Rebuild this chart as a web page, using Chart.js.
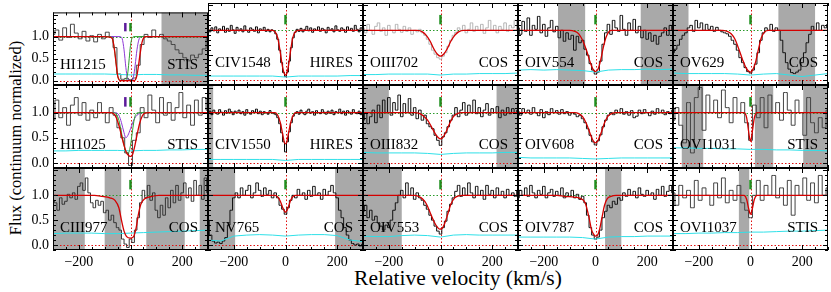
<!DOCTYPE html>
<html lang="en">
<head>
<meta charset="UTF-8">
<title>Absorption line velocity stack</title>
<script src="https://cdn.jsdelivr.net/npm/chart.js"></script>
<style>
  body { margin: 0; background: #fff; }
  #fig { position: relative; width: 831px; height: 292px; overflow: hidden; font-family: 'Liberation Serif', serif; color: #000; }
  #fig canvas { position: absolute; left: 0; top: 0; }
  .ylab { position: absolute; left: 16px; top: 138px; transform: translate(-50%, -50%) rotate(-90deg); font-size: 16.5px; white-space: nowrap; }
  .xlab { position: absolute; left: 458px; top: 278px; transform: translate(-50%, -50%); font-size: 21.5px; white-space: nowrap; }
</style>
</head>
<body>
<div id="fig">
  <div class="ylab">Flux (continuum normalized)</div>
  <div class="xlab">Relative velocity (km/s)</div>
</div>

<script>
  // velocity bins: every spectrum starts at -300 km/s
  const cosStep = 10, hiresStep = 7.5, stisStep = 15;
  const xTickLabels = [-200, 0, 200];
  const yTickLabels = [0, 0.5, 1.0];
  const errV = [-300, -250, -200, -150, -100, -50, 0, 50, 100, 150, 200, 250, 300];

  // ---- row 1 ----
  const fluxHI1215 = [1.05, 1.15, 0.92, 1.2, 0.98, 1.28, 1.08, 0.95, 1.12, 0.9, 1.02, 0.88, 1.05, 0.95, 1.1, 1.0, 0.75, 0.15, 0.03, 0.05, 0.02, 0.06, 0.35, 0.82, 1.05, 0.98, 1.15, 1.0, 1.05, 0.95, 0.9, 0.82, 0.7, 0.62, 0.52, 0.45, 0.58, 0.52, 0.6, 0.72, 0.95];
  const errHI1215 = [0.15, 0.15, 0.15, 0.15, 0.15, 0.14, 0.13, 0.14, 0.14, 0.13, 0.13, 0.12, 0.12];
  const modelVHI1215 = [-300, -100, -80, -70, -62, -55, -50, -45, -40, 15, 20, 25, 30, 37, 45, 52, 60, 300];
  const modelHI1215 = [1, 1, 0.99, 0.95, 0.7, 0.35, 0.12, 0.03, 0, 0, 0.03, 0.12, 0.3, 0.6, 0.88, 0.98, 1, 1];
  const compAVHI1215 = [-300, -80, -70, -62, -55, -50, -45, -40, -20, -15, -10, -5, 0, 5, 12, 300];
  const compAHI1215 = [1, 1, 0.95, 0.7, 0.35, 0.12, 0.02, 0, 0, 0.05, 0.2, 0.5, 0.8, 0.95, 1, 1];
  const compBVHI1215 = [-300, -40, -32, -25, -18, -12, -8, 8, 12, 18, 25, 32, 40, 300];
  const compBHI1215 = [1, 1, 0.95, 0.7, 0.3, 0.05, 0, 0, 0.1, 0.35, 0.7, 0.92, 1, 1];
  const grayHI1215 = [[120, 300]];

  const fluxCIV1548 = [1.02, 0.97, 1.05, 0.99, 1.07, 0.95, 1.03, 1.0, 1.08, 0.96, 1.04, 0.98, 1.1, 1.01, 0.94, 1.06, 0.99, 1.03, 0.97, 1.09, 1.0, 0.96, 1.05, 1.02, 0.98, 1.07, 0.95, 1.03, 1.0, 1.06, 0.98, 1.02, 0.97,
    1.01, 0.99, 0.93, 0.82, 0.6, 0.35, 0.15, 0.07, 0.16, 0.38, 0.65, 0.85, 0.96, 1.02,
    0.98, 1.04, 0.97, 1.02, 1.08, 0.99, 1.05, 0.96, 1.03, 1.0, 1.07, 0.98, 1.04, 1.01, 0.95, 1.06, 1.0, 1.03, 0.97, 1.09, 1.01, 0.98, 1.05, 1.02, 0.96, 1.07, 1.0, 1.04, 0.98, 1.1, 1.02, 0.97, 1.05, 1.0];
  const errCIV1548 = [0.08, 0.08, 0.08, 0.08, 0.08, 0.08, 0.06, 0.08, 0.08, 0.08, 0.08, 0.09, 0.09];
  const modelVCIV1548 = [-300, -50, -40, -30, -20, -12, -5, 0, 5, 12, 20, 28, 38, 50, 300];
  const modelCIV1548 = [1, 1, 0.97, 0.85, 0.55, 0.28, 0.13, 0.1, 0.13, 0.3, 0.6, 0.85, 0.97, 1, 1];

  const fluxOIII702 = [1.05, 0.95, 1.12, 1.0, 0.92, 1.08, 1.15, 0.98, 1.05, 0.9, 1.1, 1.0, 0.95, 1.12, 1.02, 0.96, 1.08, 0.98, 1.05, 0.92, 1.0, 0.97, 1.02, 0.95, 0.9, 0.82, 0.72, 0.6, 0.52, 0.45, 0.42, 0.48, 0.55, 0.68, 0.8, 0.9, 0.96, 1.05, 1.0, 1.1, 0.95, 1.02, 1.15, 0.98, 1.08, 1.0, 1.12, 0.94, 1.05, 1.2, 1.0, 1.1, 0.95, 1.08, 1.02, 1.15, 0.98, 1.1, 1.05, 1.2, 1.0];
  const errOIII702 = [0.11, 0.11, 0.12, 0.12, 0.12, 0.12, 0.1, 0.12, 0.12, 0.13, 0.13, 0.13, 0.14];
  const modelVOIII702 = [-300, -90, -70, -55, -40, -25, -12, 0, 12, 25, 40, 55, 70, 90, 300];
  const modelOIII702 = [1, 1, 0.97, 0.9, 0.78, 0.62, 0.52, 0.48, 0.52, 0.62, 0.78, 0.9, 0.97, 1, 1];

  const fluxOIV554 = [1.05, 0.92, 1.18, 0.98, 1.25, 0.9, 1.1, 1.02, 1.28, 0.95, 1.12, 0.88, 1.05, 1.2, 0.97, 1.08, 0.85, 1.0, 0.78, 0.95, 0.82, 0.9, 0.6, 0.88, 0.75, 0.8, 0.62, 0.5, 0.33, 0.2, 0.12, 0.16, 0.38, 0.72, 0.95, 1.12, 0.92, 1.2, 1.05, 0.98, 1.3, 1.02, 0.9, 1.15, 1.0, 1.22, 0.95, 1.08, 0.85, 1.0, 0.82, 0.95, 0.78, 0.9, 0.72, 0.88, 0.95, 1.05, 0.9, 1.1, 1.0];
  const errOIV554 = [0.2, 0.21, 0.2, 0.21, 0.2, 0.19, 0.16, 0.2, 0.21, 0.21, 0.22, 0.21, 0.22];
  const modelVOIV554 = [-300, -100, -80, -65, -50, -35, -20, -10, 0, 10, 20, 30, 40, 50, 60, 300];
  const modelOIV554 = [1, 1, 0.98, 0.93, 0.8, 0.6, 0.35, 0.22, 0.17, 0.22, 0.4, 0.65, 0.85, 0.96, 1, 1];
  const grayOIV554 = [[-145, -40], [175, 300]];

  const fluxOV629 = [0.55, 0.62, 0.7, 0.82, 0.9, 0.95, 1.05, 1.1, 0.98, 1.2, 1.05, 1.15, 1.0, 1.12, 1.02, 1.08, 0.98, 1.06, 1.0, 0.97, 0.95, 0.93, 0.88, 0.8, 0.72, 0.6, 0.45, 0.35, 0.25, 0.17, 0.14, 0.2, 0.32, 0.55, 0.8, 0.95, 1.05, 1.0, 1.12, 0.98, 1.05, 1.0, 0.8, 0.55, 0.35, 0.22, 0.15, 0.13, 0.16, 0.2, 0.35, 0.55, 0.75, 0.92, 1.08, 1.0, 1.15, 1.0, 1.1, 1.05, 1.12];
  const errOV629 = [0.14, 0.13, 0.13, 0.13, 0.13, 0.12, 0.1, 0.12, 0.13, 0.1, 0.07, 0.1, 0.13];
  const modelVOV629 = [-300, -110, -90, -75, -60, -45, -30, -18, -8, 0, 8, 18, 30, 42, 55, 70, 300];
  const modelOV629 = [1, 1, 0.98, 0.93, 0.82, 0.62, 0.4, 0.25, 0.18, 0.16, 0.2, 0.33, 0.6, 0.85, 0.97, 1, 1];
  const grayOV629 = [[-300, -240], [108, 250]];

  // ---- row 2 ----
  const fluxHI1025 = [0.85, 1.25, 0.9, 1.1, 0.75, 1.15, 1.3, 0.95, 1.2, 0.85, 1.05, 0.9, 1.2, 1.0, 0.8, 1.1, 0.95, 0.7, 0.5, 0.2, -0.05, 0.45, 0.6, 1.1, 0.9, 1.35, 1.05, 0.8, 1.3, 0.95, 1.2, 0.85, 1.1, 1.4, 0.9, 1.15, 0.75, 1.25, 0.95, 1.3, 1.05];
  const errHI1025 = [0.24, 0.24, 0.25, 0.25, 0.25, 0.25, 0.24, 0.25, 0.25, 0.26, 0.26, 0.27, 0.27];
  const modelVHI1025 = [-300, -80, -65, -55, -45, -35, -25, -15, -5, 0, 8, 15, 25, 35, 45, 55, 70, 300];
  const modelHI1025 = [1, 1, 0.98, 0.9, 0.75, 0.55, 0.35, 0.2, 0.14, 0.13, 0.17, 0.3, 0.55, 0.78, 0.93, 0.99, 1, 1];
  const compAVHI1025 = [-300, -70, -55, -45, -35, -25, -15, -8, 0, 8, 15, 22, 30, 300];
  const compAHI1025 = [1, 1, 0.97, 0.85, 0.6, 0.35, 0.2, 0.2, 0.35, 0.65, 0.88, 0.98, 1, 1];
  const compBVHI1025 = [-300, -60, -45, -35, -25, -18, -10, 0, 10, 20, 30, 45, 300];
  const compBHI1025 = [1, 1, 0.95, 0.8, 0.6, 0.5, 0.55, 0.68, 0.82, 0.92, 0.97, 1, 1];

  const fluxCIV1550 = [0.98, 1.03, 0.96, 1.05, 1.0, 0.97, 1.06, 1.01, 0.95, 1.04, 0.99, 1.07, 1.02, 0.96, 1.03, 1.0, 1.05, 0.98, 1.02, 0.95, 1.06, 1.0, 0.97, 1.04, 1.01, 1.07, 0.98, 1.03, 0.96, 1.02, 1.0, 0.97, 1.04,
    1.0, 0.98, 0.96, 0.9, 0.78, 0.6, 0.42, 0.22, 0.42, 0.62, 0.8, 0.93, 0.99, 1.02,
    0.97, 1.05, 1.0, 0.96, 1.03, 1.07, 0.99, 1.02, 0.95, 1.04, 1.0, 0.98, 1.06, 1.01, 0.97, 1.03, 0.99, 1.05, 0.96, 1.02, 1.0, 1.07, 0.98, 1.03, 0.95, 1.04, 1.01, 0.97, 1.06, 1.0, 0.98, 1.03, 0.96, 1.02];
  const errCIV1550 = [0.07, 0.07, 0.07, 0.07, 0.07, 0.07, 0.05, 0.07, 0.07, 0.07, 0.07, 0.07, 0.07];
  const modelVCIV1550 = [-300, -40, -30, -20, -12, -5, 0, 5, 12, 20, 30, 40, 300];
  const modelCIV1550 = [1, 1, 0.95, 0.8, 0.6, 0.42, 0.38, 0.42, 0.6, 0.8, 0.95, 1, 1];
  const grayCIV1550 = [[-300, -280]];

  const fluxOIII832 = [0.85, 1.0, 0.78, 0.92, 1.05, 0.8, 1.15, 0.9, 1.25, 1.0, 1.3, 0.95, 1.2, 1.05, 1.35, 0.92, 1.18, 1.0, 1.28, 0.95, 1.1, 0.88, 1.05, 0.85, 0.95, 0.78, 0.72, 0.68, 0.55, 0.45, 0.35, 0.52, 0.6, 0.72, 0.85, 0.95, 1.1, 0.92, 1.05, 1.2, 0.95, 1.15, 1.0, 1.25, 0.98, 1.1, 0.92, 1.05, 1.18, 0.95, 1.08, 1.0, 1.12, 0.9, 1.05, 0.95, 1.1, 0.98, 1.08, 1.0, 1.05];
  const errOIII832 = [0.21, 0.2, 0.2, 0.2, 0.2, 0.19, 0.17, 0.19, 0.2, 0.2, 0.2, 0.21, 0.21];
  const modelVOIII832 = [-300, -100, -80, -65, -50, -35, -20, -8, 0, 8, 20, 35, 50, 65, 80, 300];
  const modelOIII832 = [1, 1, 0.98, 0.93, 0.85, 0.72, 0.58, 0.5, 0.48, 0.5, 0.6, 0.78, 0.92, 0.98, 1, 1];
  const grayOIII832 = [[-300, -200], [217, 300]];

  const fluxOIV608 = [1.02, 0.95, 1.08, 1.0, 1.05, 0.97, 1.1, 1.0, 0.94, 1.06, 0.9, 1.02, 0.96, 1.08, 1.0, 1.04, 0.97, 1.06, 0.98, 1.02, 0.95, 1.0, 0.97, 0.92, 0.95, 0.88, 0.8, 0.68, 0.55, 0.42, 0.36, 0.44, 0.56, 0.72, 0.85, 0.95, 1.0, 0.96, 1.05, 1.0, 1.08, 0.97, 1.02, 0.95, 1.04, 0.9, 0.93, 1.05, 0.98, 1.06, 1.0, 0.94, 1.03, 0.97, 1.08, 1.0, 1.05, 0.96, 1.02, 0.98, 1.05];
  const errOIV608 = [0.11, 0.1, 0.1, 0.1, 0.1, 0.09, 0.08, 0.09, 0.1, 0.1, 0.1, 0.1, 0.1];
  const modelVOIV608 = [-300, -80, -65, -50, -35, -22, -10, 0, 10, 22, 35, 50, 65, 80, 300];
  const modelOIV608 = [1, 1, 0.98, 0.92, 0.78, 0.6, 0.45, 0.4, 0.45, 0.6, 0.8, 0.94, 0.99, 1, 1];

  const fluxOVI1031 = [0.85, 1.1, 0.75, 0.4, 1.2, 0.2, 1.3, 1.5, 0.65, 1.35, 1.0, 1.25, 0.9, 1.45, 1.1, 0.8, 1.3, 1.0, 1.2, 0.8, 0.45, 1.15, 0.9, 1.3, 0.7, 1.35, 1.0, 1.2, 0.85, 1.4, 1.05, 0.75, 1.25, 1.0, 0.55, 1.3, 0.8, 0.6, 0.9, 0.7, 1.05];
  const errOVI1031 = [0.3, 0.3, 0.29, 0.29, 0.28, 0.28, 0.27, 0.27, 0.26, 0.26, 0.25, 0.25, 0.24];
  const modelVOVI1031 = [-300, -25, -15, -8, -3, 0, 3, 8, 15, 25, 300];
  const modelOVI1031 = [1, 1, 0.9, 0.65, 0.48, 0.43, 0.48, 0.65, 0.9, 1, 1];
  const grayOVI1031 = [[-266, -183], [17, 88], [204, 300]];

  // ---- row 3 ----
  const fluxCIII977 = [0.9, 0.85, 0.7, 0.95, 0.82, 0.88, 1.02, 0.95, 1.05, 0.92, 1.18, 1.25, 1.1, 1.35, 1.05, 0.85, 0.75, 0.9, 0.8, 0.88, 0.65, 0.7, 0.5, 0.6, 0.45, 0.35, 0.3, 0.12, 0.02, -0.05, 0.12, 0.05, 0.3, 0.55, 0.85, 1.1, 0.95, 1.2, 0.9, 1.05, 0.7, 0.55, 0.8, 0.6, 0.95, 0.75, 1.1, 0.85, 1.2, 0.9, 1.05, 1.25, 0.95, 1.15, 0.88, 1.3, 1.0, 1.2, 0.92, 1.35, 1.05];
  const errCIII977 = [0.23, 0.24, 0.24, 0.24, 0.23, 0.23, 0.24, 0.25, 0.26, 0.27, 0.28, 0.29, 0.3];
  const modelVCIII977 = [-300, -140, -110, -80, -60, -45, -35, -25, -15, 0, 12, 22, 30, 40, 55, 75, 110, 300];
  const modelCIII977 = [1, 1, 0.98, 0.95, 0.9, 0.75, 0.5, 0.28, 0.17, 0.14, 0.17, 0.35, 0.6, 0.82, 0.93, 0.97, 1, 1];
  const grayCIII977 = [[-300, -177], [-100, -36], [61, 210], [268, 300]];

  const fluxNV765 = [0.5, 0.2, 0.08, 0.04, 0.06, 0.03, 0.08, 0.15, 0.4, 0.7, 0.95, 1.05, 0.95, 1.15, 1.0, 1.1, 1.2, 0.95, 1.05, 1.25, 1.1, 0.98, 1.15, 1.02, 1.1, 0.95, 1.05, 0.95, 0.8, 0.72, 0.62, 0.75, 0.9, 1.0, 0.95, 1.12, 1.0, 1.05, 0.92, 1.1, 0.98, 1.18, 1.0, 1.05, 0.92, 1.12, 1.0, 1.08, 1.2, 1.05, 0.95, 0.7, 0.55, 0.35, 0.2, 0.1, 0.03, 0.0, 0.02, -0.02, 0.02];
  const errNV765 = [0.1, 0.08, 0.18, 0.2, 0.21, 0.2, 0.18, 0.2, 0.21, 0.21, 0.19, 0.1, 0.07];
  const modelVNV765 = [-300, -40, -30, -20, -12, -5, 0, 5, 12, 20, 30, 40, 300];
  const modelNV765 = [1, 1, 0.97, 0.88, 0.77, 0.69, 0.66, 0.69, 0.78, 0.9, 0.98, 1, 1];
  const grayNV765 = [[-300, -195], [192, 300]];

  const fluxOIV553 = [0.68, 0.8, 0.55, 0.7, 0.5, 0.58, 0.45, 0.38, 0.3, 0.4, 0.35, 0.5, 0.7, 0.85, 1.0, 1.1, 0.95, 1.25, 1.0, 1.15, 0.92, 1.05, 0.95, 0.9, 0.8, 0.72, 0.6, 0.5, 0.38, 0.28, 0.22, 0.35, 0.48, 0.68, 0.82, 0.95, 1.08, 1.2, 0.98, 1.15, 1.0, 1.25, 1.05, 0.95, 1.18, 1.0, 1.1, 0.92, 1.2, 1.02, 1.1, 0.95, 1.15, 1.0, 1.08, 0.95, 1.12, 1.0, 1.05, 0.98, 1.1];
  const errOIV553 = [0.18, 0.17, 0.17, 0.19, 0.2, 0.19, 0.16, 0.2, 0.21, 0.2, 0.2, 0.2, 0.2];
  const modelVOIV553 = [-300, -100, -85, -70, -55, -40, -25, -12, -3, 5, 15, 28, 40, 55, 70, 85, 300];
  const modelOIV553 = [1, 1, 0.98, 0.93, 0.83, 0.65, 0.47, 0.36, 0.32, 0.33, 0.42, 0.62, 0.82, 0.95, 0.99, 1, 1];
  const grayOIV553 = [[-300, -150]];

  const fluxOIV787 = [0.95, 1.1, 1.0, 1.15, 0.98, 1.2, 1.05, 0.95, 1.1, 1.02, 1.18, 0.95, 1.05, 1.12, 0.98, 1.08, 1.0, 1.15, 0.95, 1.05, 0.98, 1.1, 0.95, 1.02, 0.92, 0.98, 0.85, 0.6, 0.35, 0.2, 0.12, 0.16, 0.3, 0.55, 0.68, 0.8, 0.75, 0.88, 0.82, 0.95, 0.9, 1.05, 0.98, 1.12, 1.0, 1.08, 0.95, 1.15, 1.02, 0.98, 1.1, 1.0, 1.05, 0.92, 1.12, 1.0, 1.18, 0.98, 1.08, 1.2, 1.05];
  const errOIV787 = [0.16, 0.16, 0.16, 0.16, 0.16, 0.15, 0.12, 0.16, 0.17, 0.17, 0.18, 0.18, 0.18];
  const modelVOIV787 = [-300, -150, -120, -80, -60, -40, -25, -15, -5, 0, 8, 15, 25, 35, 45, 60, 80, 300];
  const modelOIV787 = [1, 1, 0.98, 0.96, 0.94, 0.85, 0.55, 0.3, 0.2, 0.18, 0.2, 0.3, 0.55, 0.8, 0.93, 0.98, 1, 1];
  const grayOIV787 = [[37, 100]];

  const fluxOVI1037 = [1.05, 0.8, 1.2, 0.95, 1.1, 0.75, 1.3, 0.9, 1.15, 1.0, 0.8, 1.25, 0.95, 1.35, 0.85, 1.1, 0.9, 1.2, 0.85, 0.7, 0.55, 1.0, 1.3, 0.9, 1.2, 1.0, 1.4, 0.95, 1.15, 0.8, 1.3, 0.6, 1.2, 1.0, 1.35, 0.9, 1.25, 0.85, 1.4, 1.0, 1.15];
  const errOVI1037 = [0.23, 0.23, 0.24, 0.24, 0.25, 0.25, 0.26, 0.26, 0.27, 0.28, 0.28, 0.29, 0.3];
  const modelVOVI1037 = [-300, -25, -15, -8, -3, 0, 3, 8, 15, 25, 300];
  const modelOVI1037 = [1, 1, 0.92, 0.75, 0.65, 0.62, 0.65, 0.75, 0.92, 1, 1];
  const grayOVI1037 = [[-45, -5]];

  const GREEN = '#1f8f1f', PURPLE = '#5b1a9a', RED = '#d40000', CYAN = '#2fe0e8';
  const hiMarks = [[-20, PURPLE], [0, GREEN]];
  const oneMark = [[0, GREEN]];

  const panels = [
    { name: 'HI1215', inst: 'STIS', flux: fluxHI1215, step: stisStep, err: errHI1215, mv: modelVHI1215, m: modelHI1215, gray: grayHI1215, marks: hiMarks, col: '#444',
      comps: [[compAVHI1215, compAHI1215, '#2ca02c'], [compBVHI1215, compBHI1215, '#8e3ad6']] },
    { name: 'CIV1548', inst: 'HIRES', flux: fluxCIV1548, step: hiresStep, err: errCIV1548, mv: modelVCIV1548, m: modelCIV1548, gray: [], marks: oneMark, col: '#000' },
    { name: 'OIII702', inst: 'COS', flux: fluxOIII702, step: cosStep, err: errOIII702, mv: modelVOIII702, m: modelOIII702, gray: [], marks: oneMark, col: '#b4b4b4' },
    { name: 'OIV554', inst: 'COS', flux: fluxOIV554, step: cosStep, err: errOIV554, mv: modelVOIV554, m: modelOIV554, gray: grayOIV554, marks: oneMark, col: '#111' },
    { name: 'OV629', inst: 'COS', flux: fluxOV629, step: cosStep, err: errOV629, mv: modelVOV629, m: modelOV629, gray: grayOV629, marks: oneMark, col: '#111' },

    { name: 'HI1025', inst: 'STIS', flux: fluxHI1025, step: stisStep, err: errHI1025, mv: modelVHI1025, m: modelHI1025, gray: [], marks: hiMarks, col: '#444',
      comps: [[compAVHI1025, compAHI1025, '#2ca02c'], [compBVHI1025, compBHI1025, '#8e3ad6']] },
    { name: 'CIV1550', inst: 'HIRES', flux: fluxCIV1550, step: hiresStep, err: errCIV1550, mv: modelVCIV1550, m: modelCIV1550, gray: grayCIV1550, marks: oneMark, col: '#000' },
    { name: 'OIII832', inst: 'COS', flux: fluxOIII832, step: cosStep, err: errOIII832, mv: modelVOIII832, m: modelOIII832, gray: grayOIII832, marks: oneMark, col: '#111' },
    { name: 'OIV608', inst: 'COS', flux: fluxOIV608, step: cosStep, err: errOIV608, mv: modelVOIV608, m: modelOIV608, gray: [], marks: oneMark, col: '#111' },
    { name: 'OVI1031', inst: 'STIS', flux: fluxOVI1031, step: stisStep, err: errOVI1031, mv: modelVOVI1031, m: modelOVI1031, gray: grayOVI1031, marks: oneMark, col: '#444' },

    { name: 'CIII977', inst: 'COS', flux: fluxCIII977, step: cosStep, err: errCIII977, mv: modelVCIII977, m: modelCIII977, gray: grayCIII977, marks: oneMark, col: '#333' },
    { name: 'NV765', inst: 'COS', flux: fluxNV765, step: cosStep, err: errNV765, mv: modelVNV765, m: modelNV765, gray: grayNV765, marks: oneMark, col: '#111' },
    { name: 'OIV553', inst: 'COS', flux: fluxOIV553, step: cosStep, err: errOIV553, mv: modelVOIV553, m: modelOIV553, gray: grayOIV553, marks: oneMark, col: '#111' },
    { name: 'OIV787', inst: 'COS', flux: fluxOIV787, step: cosStep, err: errOIV787, mv: modelVOIV787, m: modelOIV787, gray: grayOIV787, marks: oneMark, col: '#111' },
    { name: 'OVI1037', inst: 'STIS', flux: fluxOVI1037, step: stisStep, err: errOVI1037, mv: modelVOVI1037, m: modelOVI1037, gray: grayOVI1037, marks: oneMark, col: '#444' }
  ];

  const W = 831, H = 292;
  const colLeft = [53, 208, 363, 518, 673], colW = 155;
  const rowTop = [3, 85, 168], rowBottom = [85, 168, 250];
  const yAxisW = 40, xAxisH = 22;
  const tickFont = { family: 'Liberation Serif', size: 14 };

  const pairs = (vs, fs) => vs.map((v, i) => ({ x: v, y: fs[i] }));

  function decor(p) {
    return {
      id: 'decor',
      beforeDatasetsDraw(chart) {
        const { ctx, chartArea: a, scales: { x, y } } = chart;
        ctx.save();
        ctx.beginPath(); ctx.rect(a.left, a.top, a.width, a.height); ctx.clip();
        ctx.fillStyle = '#a9a9a9';
        p.gray.forEach(([v0, v1]) => {
          const x0 = x.getPixelForValue(v0), x1 = x.getPixelForValue(v1);
          ctx.fillRect(x0, a.top, x1 - x0, a.height);
        });
        ctx.lineWidth = 1;
        ctx.setLineDash([1.5, 2]);
        ctx.strokeStyle = '#2a9a2a';
        let yy = Math.round(y.getPixelForValue(1)) + 0.5;
        ctx.beginPath(); ctx.moveTo(a.left, yy); ctx.lineTo(a.right, yy); ctx.stroke();
        ctx.strokeStyle = '#e01010';
        yy = Math.round(y.getPixelForValue(0)) + 0.5;
        ctx.beginPath(); ctx.moveTo(a.left, yy); ctx.lineTo(a.right, yy); ctx.stroke();
        const xx = Math.round(x.getPixelForValue(0)) + 0.5;
        ctx.beginPath(); ctx.moveTo(xx, a.top); ctx.lineTo(xx, a.bottom); ctx.stroke();
        ctx.restore();
      },
      afterDatasetsDraw(chart) {
        const { ctx, chartArea: a, scales: { x, y } } = chart;
        ctx.save();
        // component markers
        ctx.lineWidth = 2.5;
        p.marks.forEach(([v, c]) => {
          const xx = x.getPixelForValue(v);
          ctx.strokeStyle = c;
          ctx.beginPath(); ctx.moveTo(xx, y.getPixelForValue(1.12)); ctx.lineTo(xx, y.getPixelForValue(1.31)); ctx.stroke();
        });
        // labels
        ctx.fillStyle = '#000';
        ctx.font = '15px "Liberation Serif"';
        ctx.textBaseline = 'middle';
        const ly = y.getPixelForValue(0.35);
        ctx.textAlign = 'left'; ctx.fillText(p.name, a.left + 7, ly);
        ctx.textAlign = 'right'; ctx.fillText(p.inst, a.right - 10, ly);
        // frame
        ctx.strokeStyle = '#000'; ctx.lineWidth = 1;
        ctx.strokeRect(a.left + 0.5, a.top + 0.5, a.width - 1, a.height - 1);
        // inward ticks on all sides
        ctx.beginPath();
        for (let v = -300; v <= 300; v += 50) {
          const xx = Math.round(x.getPixelForValue(v)) + 0.5, len = v % 200 === 0 ? 5 : 3;
          ctx.moveTo(xx, a.bottom); ctx.lineTo(xx, a.bottom - len);
          ctx.moveTo(xx, a.top); ctx.lineTo(xx, a.top + len);
        }
        for (let k = -1; k <= 15; k++) {
          const yy = Math.round(y.getPixelForValue(k / 10)) + 0.5, len = k % 5 === 0 ? 5 : 3;
          ctx.moveTo(a.left, yy); ctx.lineTo(a.left + len, yy);
          ctx.moveTo(a.right, yy); ctx.lineTo(a.right - len, yy);
        }
        ctx.stroke();
        ctx.restore();
      }
    };
  }

  const fig = document.getElementById('fig');
  panels.forEach((p, idx) => {
    const row = Math.floor(idx / 5), col = idx % 5;
    const isLeft = col === 0, isBottom = row === 2;
    const cv = document.createElement('canvas');
    cv.width = W; cv.height = H;
    fig.appendChild(cv);

    const datasets = [
      { data: pairs(p.mv, p.m), borderColor: RED, borderWidth: 1.3, cubicInterpolationMode: 'monotone', order: 0 },
      { data: pairs(errV, p.err), borderColor: CYAN, borderWidth: 1, order: 3 },
      { data: p.flux.map((f, i) => ({ x: -300 + p.step * i, y: f })), borderColor: p.col, borderWidth: 1, stepped: 'middle', order: 4 }
    ];
    (p.comps || []).forEach(([vs, fs, c]) => {
      datasets.push({ data: pairs(vs, fs), borderColor: c, borderWidth: 1, cubicInterpolationMode: 'monotone', order: 1 });
    });

    new Chart(cv, {
      type: 'line',
      data: { datasets },
      options: {
        responsive: false,
        animation: false,
        events: [],
        layout: {
          padding: {
            left: isLeft ? colLeft[col] - yAxisW : colLeft[col],
            right: W - colLeft[col] - colW,
            top: rowTop[row],
            bottom: isBottom ? H - rowBottom[row] - xAxisH : H - rowBottom[row]
          }
        },
        elements: { point: { radius: 0 }, line: { fill: false } },
        plugins: { legend: { display: false }, tooltip: { enabled: false } },
        scales: {
          x: {
            type: 'linear', min: -300, max: 300, display: isBottom,
            grid: { display: false, drawTicks: false }, border: { display: false },
            ticks: { font: tickFont, color: '#000', padding: 4, maxRotation: 0,
              callback: v => (v < 0 ? '\u2212' + (-v) : String(v)) },
            afterBuildTicks: s => { s.ticks = xTickLabels.map(v => ({ value: v })); },
            afterFit: s => { if (isBottom) s.height = xAxisH; }
          },
          y: {
            type: 'linear', min: -0.1, max: 1.55, display: isLeft,
            grid: { display: false, drawTicks: false }, border: { display: false },
            ticks: { font: tickFont, color: '#000', padding: 4, callback: v => Number(v).toFixed(1) },
            afterBuildTicks: s => { s.ticks = yTickLabels.map(v => ({ value: v })); },
            afterFit: s => { if (isLeft) s.width = yAxisW; }
          }
        }
      },
      plugins: [decor(p)]
    });
  });
</script>
</body>
</html>
